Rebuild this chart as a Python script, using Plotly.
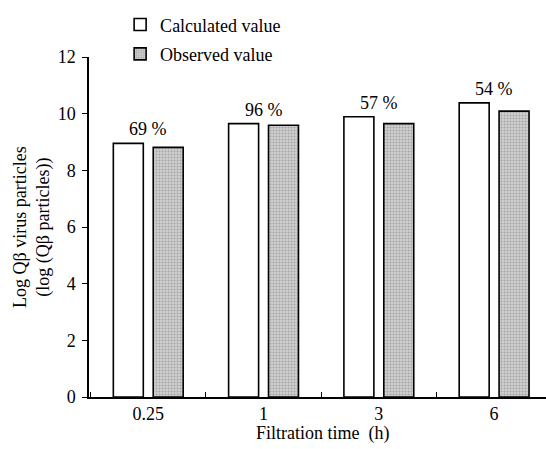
import plotly.graph_objects as go

categories = ["0.25", "1", "3", "6"]
calculated = [8.95, 9.65, 9.89, 10.38]
observed = [8.81, 9.59, 9.65, 10.09]
percent_labels = ["69 %", "96 %", "57 %", "54 %"]

FONT = "Liberation Serif, Times New Roman, serif"
FS = 18

fig = go.Figure()
fig.add_trace(go.Bar(
    x=categories, y=calculated, name="Calculated value",
    width=0.26, offset=-0.303,
    marker=dict(color="white", line=dict(color="black", width=1.6)),
    legendgroup="a",
))
fig.add_trace(go.Bar(
    x=categories, y=observed, name="Observed value",
    width=0.26, offset=0.043,
    marker=dict(color="#c0c0c0", line=dict(color="black", width=1.6),
                pattern=dict(shape=".", fgcolor="#7a7a7a", bgcolor="#cfcfcf", size=3, solidity=0.35)),
    legendgroup="b",
))

for i, (v, t) in enumerate(zip(calculated, percent_labels)):
    fig.add_annotation(x=i, y=v, text=t, showarrow=False, yanchor="bottom",
                       yshift=2, font=dict(family=FONT, size=FS, color="black"))

fig.add_annotation(xref="paper", yref="paper", x=-0.125, y=0.5,
                   text="Log Qβ virus particles<br>(log (Qβ particles))",
                   textangle=-90, showarrow=False, xanchor="center", yanchor="middle",
                   font=dict(family=FONT, size=FS, color="black"))
fig.add_annotation(xref="paper", yref="paper", x=0.51, y=-0.106,
                   text="Filtration time  (h)", showarrow=False,
                   xanchor="center", yanchor="middle",
                   font=dict(family=FONT, size=FS, color="black"))

fig.update_layout(
    width=546, height=449,
    margin=dict(l=89, r=0, t=57, b=52, autoexpand=False),
    plot_bgcolor="white", paper_bgcolor="white",
    font=dict(family=FONT, size=FS, color="black"),
    barmode="overlay",
    showlegend=True,
    legend=dict(x=0.22, y=0.986, xref="container", yref="container",
                xanchor="left", yanchor="top",
                bgcolor="rgba(0,0,0,0)", font=dict(family=FONT, size=FS),
                tracegroupgap=3, traceorder="grouped"),
    xaxis=dict(
        type="category", range=[-0.514, 3.45],
        showline=True, linecolor="black", linewidth=1.5,
        ticks="inside", tickson="boundaries", ticklen=5, tickcolor="black",
        showgrid=False, zeroline=False,
        tickfont=dict(family=FONT, size=FS),
    ),
    yaxis=dict(
        range=[0, 12], tickvals=[0, 2, 4, 6, 8, 10, 12],
        showline=True, linecolor="black", linewidth=1.5,
        ticks="outside", ticklen=5, tickcolor="black",
        showgrid=False, zeroline=False,
        tickfont=dict(family=FONT, size=FS),
        ticklabelstandoff=3,
    ),
)

fig.write_html("out.html", config={"displayModeBar": False},
               post_script="document.body.style.margin='0px';")
